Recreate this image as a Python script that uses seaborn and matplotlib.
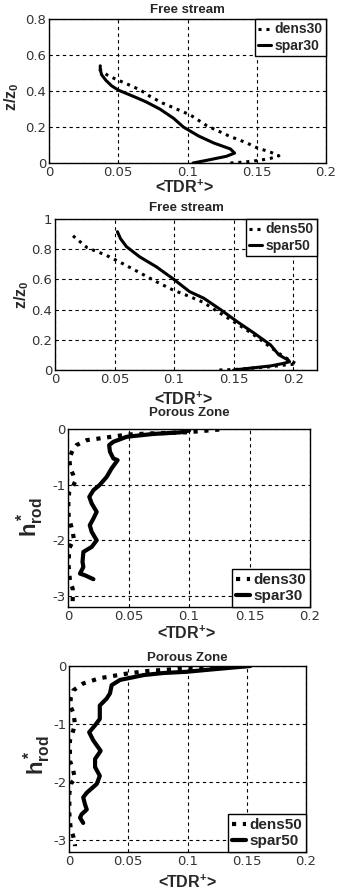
import numpy as np
import pandas as pd
import seaborn as sns
import matplotlib
matplotlib.use("Agg")
from matplotlib import pyplot as plt
from matplotlib.ticker import FuncFormatter

# ---- data ----
# panel 1: free stream, 30
fs30_dens_x = [0.131, 0.142, 0.152, 0.160, 0.166, 0.160, 0.150, 0.143, 0.130, 0.114, 0.102, 0.092,
               0.082, 0.073, 0.066, 0.059, 0.053, 0.047, 0.042, 0.035]
fs30_dens_y = [0.0, 0.006, 0.015, 0.026, 0.040, 0.060, 0.085, 0.111, 0.150, 0.207, 0.267, 0.300,
               0.333, 0.370, 0.405, 0.430, 0.450, 0.470, 0.489, 0.528]
fs30_spar_x = [0.104, 0.114, 0.128, 0.134, 0.131, 0.119, 0.108, 0.097, 0.090, 0.080, 0.070, 0.061,
               0.050, 0.045, 0.041, 0.038, 0.037, 0.037]
fs30_spar_y = [0.0, 0.015, 0.037, 0.055, 0.078, 0.111, 0.150, 0.200, 0.248, 0.300, 0.340, 0.370,
               0.405, 0.430, 0.460, 0.490, 0.520, 0.540]

# panel 2: free stream, 50
fs50_dens_x = [0.138, 0.150, 0.164, 0.180, 0.192, 0.203, 0.198, 0.190, 0.181, 0.171, 0.160, 0.148,
               0.136, 0.124, 0.112, 0.099, 0.085, 0.071, 0.058, 0.043, 0.027, 0.0126]
fs50_dens_y = [0.0, 0.003, 0.011, 0.021, 0.032, 0.040, 0.060, 0.100, 0.150, 0.210, 0.270, 0.330,
               0.390, 0.450, 0.490, 0.530, 0.585, 0.645, 0.700, 0.760, 0.810, 0.905]
fs50_spar_x = [0.150, 0.167, 0.181, 0.192, 0.197, 0.196, 0.188, 0.181, 0.167, 0.153, 0.139, 0.125,
               0.113, 0.099, 0.085, 0.071, 0.060, 0.055, 0.0524]
fs50_spar_y = [0.0, 0.015, 0.027, 0.044, 0.055, 0.065, 0.100, 0.166, 0.245, 0.320, 0.400, 0.475,
               0.519, 0.605, 0.684, 0.750, 0.817, 0.870, 0.916]

# panel 3: porous zone, 30
pz30_dens_x = [0.125, 0.098, 0.068, 0.049, 0.026, 0.0155, 0.007, 0.0039, 0.001, 0.002, 0.0044, 0.0058,
               0.0039, 0.001, 0.0003, 0.0005, 0.0017, 0.0039, 0.005, 0.003, 0.001, 0.0005, 0.0017,
               0.0039, 0.0039, 0.0039]
pz30_dens_y = [-0.01, -0.06, -0.08, -0.10, -0.17, -0.20, -0.29, -0.38, -0.53, -0.71, -0.83, -0.95,
               -1.04, -1.13, -1.31, -1.55, -1.67, -1.85, -2.00, -2.06, -2.15, -2.45, -2.75,
               -2.87, -3.05, -3.10]
pz30_spar_x = [0.100, 0.093, 0.070, 0.0485, 0.0375, 0.034, 0.0347, 0.0375, 0.041, 0.036, 0.032, 0.026,
               0.021, 0.0176, 0.0196, 0.0237, 0.021, 0.018, 0.0196, 0.0237, 0.0196, 0.0127, 0.012,
               0.0127, 0.0099, 0.014, 0.021]
pz30_spar_y = [-0.03, -0.06, -0.09, -0.14, -0.23, -0.29, -0.41, -0.53, -0.56, -0.71, -0.86, -1.01,
               -1.10, -1.22, -1.34, -1.49, -1.61, -1.73, -1.85, -2.00, -2.12, -2.21, -2.39,
               -2.48, -2.60, -2.63, -2.70]

# panel 4: porous zone, 50
pz50_dens_x = [0.150, 0.099, 0.066, 0.049, 0.026, 0.012, 0.0036, 0.0014, 0.0014, 0.0036, 0.005, 0.0036,
               0.0008, 0.0008, 0.0036, 0.005, 0.0014, 0.0003, 0.0003, 0.0014, 0.0036, 0.005, 0.005]
pz50_dens_y = [0.0, -0.04, -0.087, -0.13, -0.21, -0.30, -0.42, -0.56, -0.70, -0.80, -0.99, -1.11,
               -1.28, -1.63, -1.80, -1.94, -2.03, -2.20, -2.55, -2.79, -2.93, -3.07, -3.10]
pz50_spar_x = [0.153, 0.120, 0.099, 0.080, 0.063, 0.043, 0.036, 0.0346, 0.0318, 0.026, 0.026, 0.022,
               0.017, 0.0205, 0.0267, 0.022, 0.022, 0.026, 0.0234, 0.015, 0.012, 0.0135, 0.015,
               0.0107, 0.0093, 0.012]
pz50_spar_y = [0.0, -0.06, -0.10, -0.12, -0.156, -0.24, -0.33, -0.47, -0.56, -0.68, -0.91, -1.02,
               -1.14, -1.28, -1.46, -1.60, -1.74, -1.89, -2.03, -2.18, -2.26, -2.38, -2.47,
               -2.55, -2.61, -2.70]

x_ticks = [0, 0.05, 0.1, 0.15, 0.2]

sns.set_style("white")
plt.rcParams['font.family'] = ['Liberation Sans', 'DejaVu Sans']
plt.rcParams['mathtext.fontset'] = 'custom'
plt.rcParams['mathtext.rm'] = 'Liberation Sans'
plt.rcParams['mathtext.bf'] = 'Liberation Sans:bold'
plt.rcParams['mathtext.it'] = 'Liberation Sans:bold'

fig = plt.figure(figsize=(3.38, 8.92), dpi=100)

# panel geometry in pixels: left, right, top, bottom
boxes = [(49, 326, 19, 163), (55, 317, 219, 370), (68, 310, 429, 607), (69, 306, 666, 852)]
W, H = 338.0, 892.0

def make_ax(b):
    l, r, t, bt = b
    return fig.add_axes([l / W, 1 - bt / H, (r - l) / W, (bt - t) / H])

fmt = FuncFormatter(lambda v, p: "%g" % round(v, 3))
DOT = (0, (1.0, 1.6))

panels = [
    dict(title="Free stream", dens=(fs30_dens_x, fs30_dens_y), spar=(fs30_spar_x, fs30_spar_y),
         names=("dens30", "spar30"), xlim=(0, 0.2), ylim=(0, 0.8), yticks=[0, 0.2, 0.4, 0.6, 0.8],
         ylabel=r"$\mathbf{z/z_0}$", lw=2.2, loc="upper right", leg_fs=10, ylab_fs=11.5,
         title_y=1.0625, xlab=(0.49, -0.167), ylab=(-0.134, 0.458)),
    dict(title="Free stream", dens=(fs50_dens_x, fs50_dens_y), spar=(fs50_spar_x, fs50_spar_y),
         names=("dens50", "spar50"), xlim=(0, 0.22), ylim=(0, 1), yticks=[0, 0.2, 0.4, 0.6, 0.8, 1],
         ylabel=r"$\mathbf{z/z_0}$", lw=2.2, loc="upper right", leg_fs=10, ylab_fs=11.5,
         title_y=1.073, xlab=(0.49, -0.192), ylab=(-0.126, 0.497)),
    dict(title="Porous Zone", dens=(pz30_dens_x, pz30_dens_y), spar=(pz30_spar_x, pz30_spar_y),
         names=("dens30", "spar30"), xlim=(0, 0.2), ylim=(-3.2, 0), yticks=[-3, -2, -1, 0],
         ylabel=r"$\mathbf{h^*_{rod}}$", lw=3.0, loc="lower right", leg_fs=11, ylab_fs=16,
         title_y=1.09, xlab=(0.49, -0.146), ylab=(-0.157, 0.506)),
    dict(title="Porous Zone", dens=(pz50_dens_x, pz50_dens_y), spar=(pz50_spar_x, pz50_spar_y),
         names=("dens50", "spar50"), xlim=(0, 0.2), ylim=(-3.2, 0), yticks=[-3, -2, -1, 0],
         ylabel=r"$\mathbf{h^*_{rod}}$", lw=3.0, loc="lower right", leg_fs=11, ylab_fs=16,
         title_y=1.043, xlab=(0.50, -0.161), ylab=(-0.135, 0.52)),
]

for b, p in zip(boxes, panels):
    ax = make_ax(b)
    sns.lineplot(x=p["dens"][0], y=p["dens"][1], sort=False, estimator=None, ax=ax,
                 color="k", linestyle=DOT, linewidth=p["lw"], label=p["names"][0])
    sns.lineplot(x=p["spar"][0], y=p["spar"][1], sort=False, estimator=None, ax=ax,
                 color="k", linestyle="-", linewidth=p["lw"], label=p["names"][1])
    ax.set_xlim(*p["xlim"])
    ax.set_ylim(*p["ylim"])
    ax.set_xticks(x_ticks)
    ax.set_yticks(p["yticks"])
    ax.xaxis.set_major_formatter(fmt)
    ax.yaxis.set_major_formatter(fmt)
    ax.tick_params(direction="in", length=3, width=0.8, labelsize=9.5, labelcolor="#333333", pad=2)
    for lab in ax.get_xticklabels() + ax.get_yticklabels():
        lab.set_fontfamily("DejaVu Sans")
    ax.grid(True, color="k", linestyle=(0, (3, 3)), linewidth=0.8)
    for s in ax.spines.values():
        s.set_color("k")
        s.set_linewidth(1.0)

    t = ax.set_title(p["title"], fontsize=9.5, fontweight="bold", y=p["title_y"], pad=0)
    t.set_va("center")
    ax.set_xlabel(r"<TDR$^{\mathbf{+}}$>", fontsize=11.5, fontweight="bold")
    ax.xaxis.set_label_coords(*p["xlab"])
    ax.xaxis.label.set_va("center")
    ax.set_ylabel(p["ylabel"], fontsize=p["ylab_fs"])
    ax.yaxis.set_label_coords(*p["ylab"])
    ax.yaxis.label.set_va("center")

    leg = ax.legend(loc=p["loc"], borderaxespad=0, fancybox=False, framealpha=1,
                    edgecolor="k", handlelength=0.9, handletextpad=0.25, labelspacing=0.15,
                    borderpad=0.25, prop=dict(weight="bold", size=p["leg_fs"]))
    leg.get_frame().set_linewidth(1.0)

fig.savefig("out.png", dpi=100)
